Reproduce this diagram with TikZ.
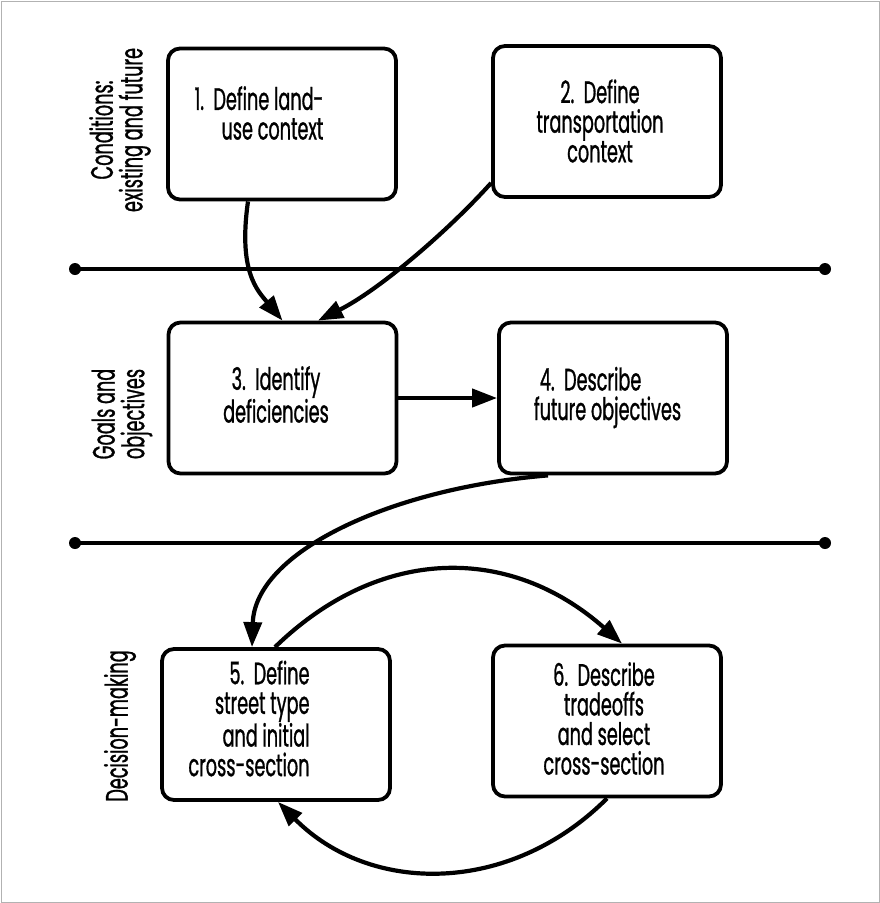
\documentclass[tikz,border=0pt]{standalone}
\usepackage{fontspec}
\setmainfont{Poppins}[FakeStretch=0.57, FakeBold=0.9]
\usetikzlibrary{arrows.meta}
\begin{document}
\begin{tikzpicture}[x=1pt,y=-1pt,
  stepbox/.style={draw=black, line width=3.8pt, rounded corners=12pt, minimum width=228pt, minimum height=151pt, inner sep=0pt},
  txt/.style={inner sep=0pt, font=\fontsize{31}{29.6}\selectfont},
  side/.style={inner sep=0pt, rotate=90, align=center, font=\fontsize{31}{29.6}\selectfont},
  flow/.style={line width=4.2pt, -{Triangle[length=25pt,width=18pt]}},
  sep/.style={line width=4.5pt},
  dot/.style={circle, fill=black, inner sep=0pt, minimum size=12pt}
]
\useasboundingbox (0,0) rectangle (880,903);
\draw[gray!60, line width=1pt] (1,1) rectangle (879,902);

% separators
\node[dot] (s1l) at (75,269) {};
\node[dot] (s1r) at (825,269) {};
\node[dot] (s2l) at (75,543) {};
\node[dot] (s2r) at (825,543) {};
\draw[sep] (s1l.center) -- (s1r.center);
\draw[sep] (s2l.center) -- (s2r.center);

% boxes
\node[stepbox] (b1) at (282,124) {};
\node[stepbox] (b2) at (607,121.5) {};
\node[stepbox] (b3) at (282.5,398) {};
\node[stepbox] (b4) at (613,398) {};
\node[stepbox] (b5) at (276,724.5) {};
\node[stepbox] (b6) at (607,721) {};

% box texts
\node[txt, align=right] (t1) at (259,113) {1.\ \ Define land-\\use context};
\node[txt, align=center] (t2) at (600,121) {2.\ \ Define\\transportation\\context};
\node[txt, align=center] (t3) at (276,394.5) {3.\ \ Identify\\deficiencies};
\node[txt, align=left] (t4) at (607.5,397.5) {\hspace{6pt}4.\ \ Describe\\future objectives};
\node[txt, align=right] (t5) at (249,718.5) {5.\ \ Define\\street type\\and initial\\cross-section};
\node[txt, align=center] (t6) at (604,718.5) {6.\ \ Describe\\tradeoffs\\and select\\cross-section};

% side labels
\node[side] (l1) at (120,130) {Conditions:\\existing and future};
\node[side] (l2) at (122,414) {Goals and\\objectives};
\node[side] (l3) at (120,726) {Decision-making};

% connectors
\draw[flow] ([xshift=-34pt]b1.south) .. controls +(-10,70) and +(-25,-30) .. (b3.north);
\draw[flow] ([yshift=-61.5pt]b2.west) .. controls +(-45,50) and +(60,-30) .. ([xshift=35.5pt]b3.north);
\draw[flow] (b3.east) -- (b4.west);
\draw[flow] ([xshift=-65pt]b4.south) .. controls +(-158,13) and +(3,-95) .. ([xshift=-24pt]b5.north);
\draw[flow] ([xshift=-1pt]b5.north) .. controls +(105,-102) and +(-112,-99) .. ([xshift=15pt]b6.north);
\draw[flow] (b6.south) .. controls +(-97,97) and +(92,93) .. ([xshift=2pt]b5.south);
\end{tikzpicture}
\end{document}
